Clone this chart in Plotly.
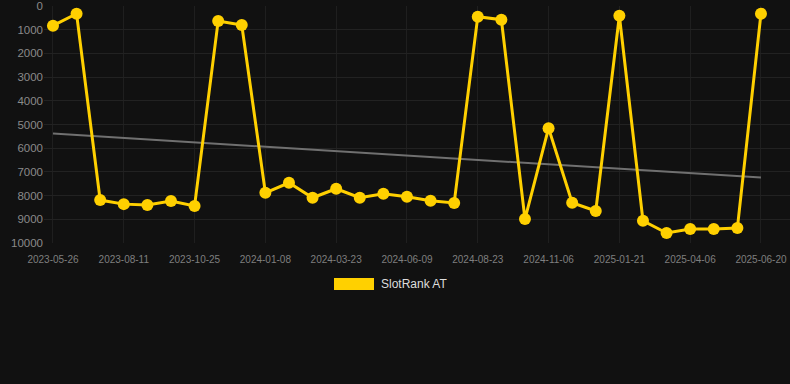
import numpy as np
import plotly.graph_objects as go

dates = [
    "2023-05-26", "2023-06-21", "2023-07-16", "2023-08-11", "2023-09-05",
    "2023-09-30", "2023-10-25", "2023-11-19", "2023-12-14", "2024-01-08",
    "2024-02-02", "2024-02-27", "2024-03-23", "2024-04-18", "2024-05-14",
    "2024-06-09", "2024-07-04", "2024-07-29", "2024-08-23", "2024-09-17",
    "2024-10-12", "2024-11-06", "2024-12-01", "2024-12-26", "2025-01-21",
    "2025-02-15", "2025-03-12", "2025-04-06", "2025-05-01", "2025-05-26",
    "2025-06-20",
]
rank_at = [
    830, 325, 8190, 8360, 8400, 8230, 8440, 630, 800, 7880,
    7460, 8090, 7710, 8090, 7920, 8050, 8220, 8310, 450, 577,
    8990, 5155, 8300, 8650, 410, 9060, 9580, 9410, 9410, 9370,
    325,
]
tick_labels = dates[::3]
y_ticks = [0, 1000, 2000, 3000, 4000, 5000, 6000, 7000, 8000, 9000, 10000]
y_tick_text = [str(v) for v in y_ticks]
series_name = "SlotRank AT"

idx = np.arange(len(rank_at))
slope, intercept = np.polyfit(idx, rank_at, 1)
trend = slope * idx + intercept

W, H = 790, 384
L, R, T, B = 44, 0, 6, 141
pw, ph = W - L - R, H - T - B

fig = go.Figure()
fig.add_trace(go.Scatter(
    x=dates, y=trend, mode="lines",
    line=dict(color="#707070", width=2),
    hoverinfo="skip", showlegend=False,
))
fig.add_trace(go.Scatter(
    x=dates, y=rank_at, mode="lines+markers", name=series_name,
    line=dict(color="#FFD000", width=3),
    marker=dict(color="#FFD000", size=12),
    cliponaxis=False, showlegend=False,
))

def px_x(p):
    return (p - L) / pw

def px_y(p):
    return (H - B - p) / ph

fig.add_shape(type="rect", xref="paper", yref="paper",
              x0=px_x(334), x1=px_x(374), y0=px_y(290), y1=px_y(278),
              fillcolor="#FFD000", line=dict(width=0))
fig.add_annotation(xref="paper", yref="paper", x=px_x(379), y=px_y(284),
                   text=series_name, showarrow=False, xanchor="left", yanchor="middle",
                   font=dict(family="Liberation Sans, Arial, sans-serif", size=12, color="#dddddd"))

fig.update_layout(
    width=W, height=H,
    margin=dict(l=L, r=R, t=T, b=B, autoexpand=False),
    paper_bgcolor="#111111", plot_bgcolor="#111111",
    font=dict(family="Liberation Sans, Arial, sans-serif", color="#8a8a8a"),
    xaxis=dict(
        type="category", range=[-0.38, len(dates) - 1 + 1.23],
        tickmode="array", tickvals=tick_labels, ticktext=tick_labels,
        tickfont=dict(size=10, color="#7f7f7f"),
        showgrid=True, gridcolor="#1f1f1f", gridwidth=1,
        zeroline=False, showline=False, ticks="",
        ticklabeloverflow="allow", automargin=False,
        ticklabelstandoff=9,
    ),
    yaxis=dict(
        range=[10000, 0], tickmode="array", tickvals=y_ticks, ticktext=y_tick_text,
        tickfont=dict(size=11.5, color="#8a8a8a"),
        showgrid=True, gridcolor="#222222", gridwidth=1,
        zeroline=False, showline=False, ticks="",
        ticklabeloverflow="allow", automargin=False,
    ),
    showlegend=False,
)

fig.write_html("out.html", config={"displayModeBar": False},
               post_script="document.body.style.margin='0';document.body.style.background='#111111';")
